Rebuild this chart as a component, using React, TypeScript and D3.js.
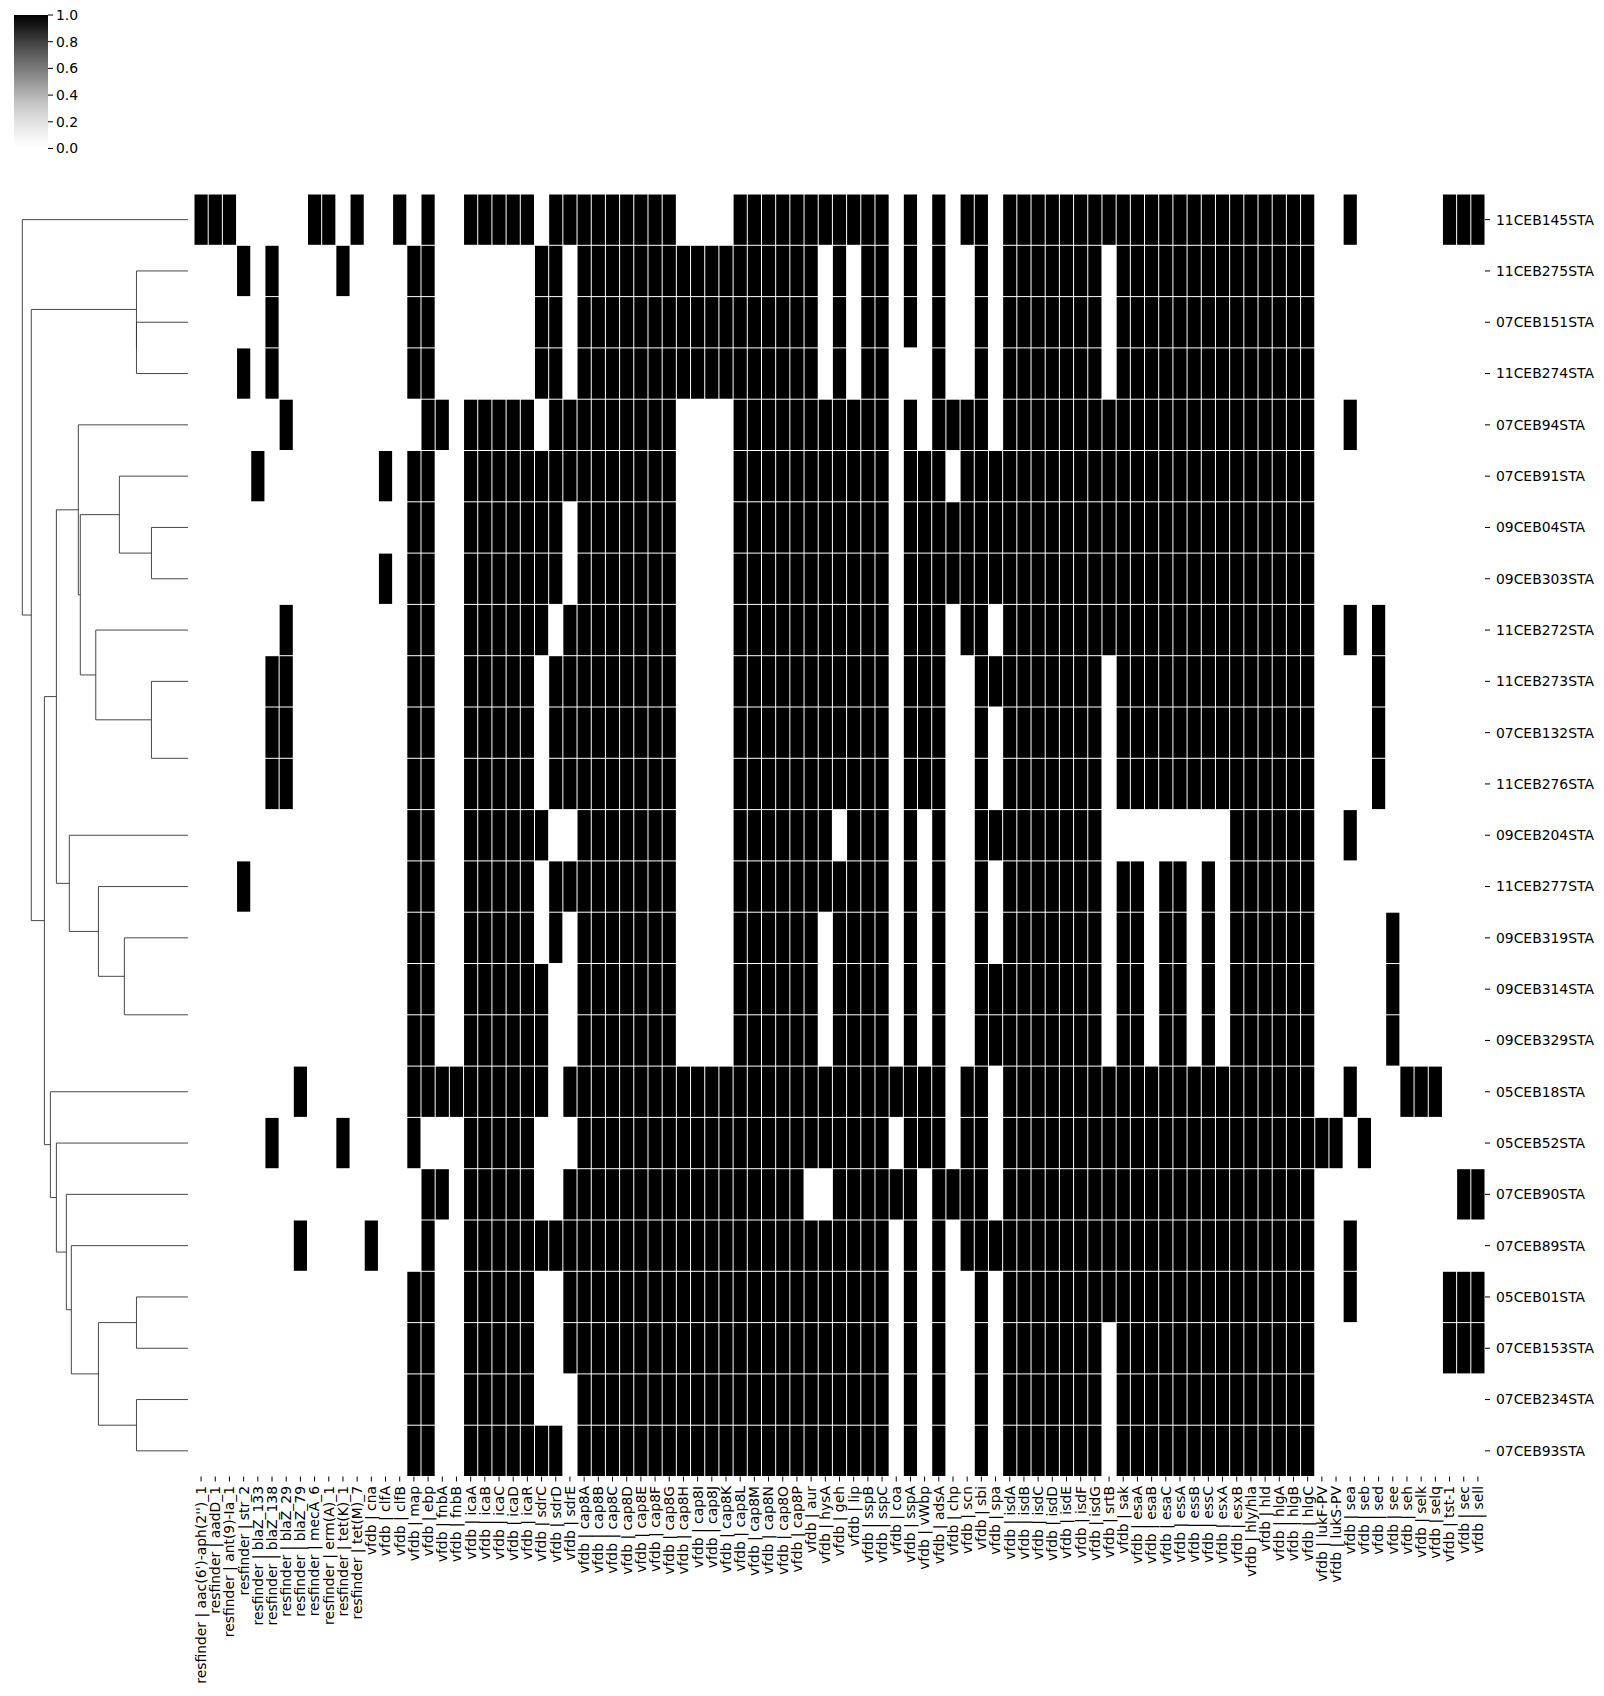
import React from 'react';
import * as d3 from 'd3';

const colLabels = [
  "resfinder | aac(6')-aph(2'')_1", "resfinder | aadD_1", "resfinder | ant(9)-Ia_1", "resfinder | str_2",
  "resfinder | blaZ_133", "resfinder | blaZ_138", "resfinder | blaZ_29", "resfinder | blaZ_79",
  "resfinder | mecA_6", "resfinder | erm(A)_1", "resfinder | tet(K)_1", "resfinder | tet(M)_7",
  "vfdb | cna", "vfdb | clfA", "vfdb | clfB", "vfdb | map", "vfdb | ebp", "vfdb | fnbA", "vfdb | fnbB",
  "vfdb | icaA", "vfdb | icaB", "vfdb | icaC", "vfdb | icaD", "vfdb | icaR",
  "vfdb | sdrC", "vfdb | sdrD", "vfdb | sdrE",
  "vfdb | cap8A", "vfdb | cap8B", "vfdb | cap8C", "vfdb | cap8D", "vfdb | cap8E", "vfdb | cap8F",
  "vfdb | cap8G", "vfdb | cap8H", "vfdb | cap8I", "vfdb | cap8J", "vfdb | cap8K", "vfdb | cap8L",
  "vfdb | cap8M", "vfdb | cap8N", "vfdb | cap8O", "vfdb | cap8P",
  "vfdb | aur", "vfdb | hysA", "vfdb | geh", "vfdb | lip", "vfdb | sspB", "vfdb | sspC", "vfdb | coa",
  "vfdb | sspA", "vfdb | vWbp", "vfdb | adsA", "vfdb | chp", "vfdb | scn", "vfdb | sbi", "vfdb | spa",
  "vfdb | isdA", "vfdb | isdB", "vfdb | isdC", "vfdb | isdD", "vfdb | isdE", "vfdb | isdF", "vfdb | isdG",
  "vfdb | srtB", "vfdb | sak",
  "vfdb | esaA", "vfdb | esaB", "vfdb | esaC", "vfdb | essA", "vfdb | essB", "vfdb | essC",
  "vfdb | esxA", "vfdb | esxB",
  "vfdb | hly/hla", "vfdb | hld", "vfdb | hlgA", "vfdb | hlgB", "vfdb | hlgC",
  "vfdb | lukF-PV", "vfdb | lukS-PV",
  "vfdb | sea", "vfdb | seb", "vfdb | sed", "vfdb | see", "vfdb | seh", "vfdb | selk", "vfdb | selq",
  "vfdb | tst-1", "vfdb | sec", "vfdb | sell",
];

const rowLabels = [
  "11CEB145STA", "11CEB275STA", "07CEB151STA", "11CEB274STA", "07CEB94STA", "07CEB91STA",
  "09CEB04STA", "09CEB303STA", "11CEB272STA", "11CEB273STA", "07CEB132STA", "11CEB276STA",
  "09CEB204STA", "11CEB277STA", "09CEB319STA", "09CEB314STA", "09CEB329STA", "05CEB18STA",
  "05CEB52STA", "07CEB90STA", "07CEB89STA", "05CEB01STA", "07CEB153STA", "07CEB234STA", "07CEB93STA",
];

// presence (1) / absence (0), one string per row, 91 columns (groups of 10)
const presenceRows = [
  "1110000011 0100101001 1111011111 1111000011 1111111110 1010110111 1111111111 1111111110 0100000011 1",
  "0001010000 1000011000 0000110111 1111111111 1111010110 1010010111 1111011111 1111111110 0000000000 0",
  "0000010000 0000011000 0000110111 1111111111 1111010110 1010010111 1111011111 1111111110 0000000000 0",
  "0001010000 0000011000 0000110111 1111111111 1111010110 0010010111 1111011111 1111111110 0000000000 0",
  "0000001000 0000001101 1111011111 1111000011 1111111110 1011110111 1111111111 1111111110 0100000000 0",
  "0000100000 0001011001 1111111111 1111000011 1111111110 1110111111 1111111111 1111111110 0000000000 0",
  "0000000000 0000011001 1111110111 1111000011 1111111110 1111111111 1111111111 1111111110 0000000000 0",
  "0000000000 0001011001 1111110111 1111000011 1111111110 1111111111 1111111111 1111111110 0000000000 0",
  "0000001000 0000011001 1111101111 1111000011 1111111110 1110110111 1111111111 1111111110 0101000000 0",
  "0000011000 0000011001 1111011111 1111000011 1111111110 1110011111 1111011111 1111111110 0001000000 0",
  "0000011000 0000011001 1111011111 1111000011 1111111110 1110010111 1111011111 1111111110 0001000000 0",
  "0000011000 0000011001 1111011111 1111000011 1111111110 1110010111 1111011111 1111111110 0001000000 0",
  "0000000000 0000011001 1111100111 1111000011 1111101110 1010011111 1111000000 0001111110 0100000000 0",
  "0001000000 0000011001 1111011111 1111000011 1111111110 1010010111 1111011011 0101111110 0000000000 0",
  "0000000000 0000011001 1111010111 1111000011 1111011110 1010010111 1111011011 0101111110 0000100000 0",
  "0000000000 0000011001 1111100111 1111000011 1111011110 1010011111 1111011011 0101111110 0000100000 0",
  "0000000000 0000011001 1111100111 1111000011 1111011110 1010011111 1111011011 0101111110 0000100000 0",
  "0000000100 0000011111 1111101111 1111111111 1111111111 1110110111 1111111111 1111111110 0100011100 0",
  "0000010000 1000010001 1111000111 1111111111 1111111110 1110110111 1111111111 1111111111 1010000000 0",
  "0000000000 0000001101 1111001111 1111111111 1110011111 1011110111 1111111111 1111111110 0000000001 1",
  "0000000100 0010001001 1111111111 1111111111 1111111110 1010111111 1111111111 1111111110 0100000000 0",
  "0000000000 0000011001 1111001111 1111111111 1111111110 1010010111 1111111111 1111111110 0100000011 1",
  "0000000000 0000011001 1111001111 1111111111 1111111110 1010010111 1111011111 1111111110 0000000011 1",
  "0000000000 0000011001 1111000111 1111111111 1111111110 1010010111 1111011111 1111111110 0000000000 0",
  "0000000000 0000011001 1111110111 1111111111 1111111110 1010010111 1111011111 1111111110 0000000000 0",
];

// row linkage (scipy style: ids < 25 are leaves, id 25 + k is the k-th merge)
const linkLeft = [10, 15, 6, 9, 2, 1, 21, 23, 14, 5, 13, 31, 8, 34, 4, 20, 12, 19, 39, 18, 17, 43, 30, 0];
const linkRight = [11, 16, 7, 25, 3, 29, 22, 24, 26, 27, 33, 32, 28, 37, 38, 36, 35, 40, 41, 42, 44, 45, 46, 47];
const linkHeight = [0, 0, 0.223, 0.223, 0.313, 0.313, 0.313, 0.313, 0.386, 0.416, 0.542, 0.542, 0.558,
  0.651, 0.663, 0.705, 0.717, 0.735, 0.795, 0.795, 0.831, 0.867, 0.946, 1.0];

const colorbarTicks = [0.0, 0.2, 0.4, 0.6, 0.8, 1.0];

const FONT = "DejaVu Sans";
const FS = 13.9;

export default function App() {
  const W = 1604, H = 1696;
  const hm = { left: 194, right: 1485, top: 194, bottom: 1476.5 };
  const nRows = rowLabels.length, nCols = colLabels.length;
  const x = d3.scaleBand<number>().domain(d3.range(nCols)).range([hm.left, hm.right]);
  const y = d3.scaleBand<number>().domain(d3.range(nRows)).range([hm.top, hm.bottom]);
  const color = d3.scaleSequential(d3.interpolateGreys).domain([0, 1]);
  const matrix = presenceRows.map(s => s.replace(/\s/g, '').split('').map(Number));

  // dendrogram geometry
  const pos: number[] = [];
  const hgt: number[] = [];
  for (let i = 0; i < nRows; i++) { pos[i] = (y(i) as number) + y.bandwidth() / 2; hgt[i] = 0; }
  linkLeft.forEach((a, k) => {
    const b = linkRight[k];
    pos[nRows + k] = (pos[a] + pos[b]) / 2;
    hgt[nRows + k] = linkHeight[k];
  });
  const maxH = d3.max(linkHeight) as number;
  const dendroRight = 188.5;
  const dx = d3.scaleLinear().domain([0, maxH * 1.05]).range([dendroRight, 14]);
  const dendroPaths = linkLeft.map((a, k) => {
    const b = linkRight[k];
    const h = linkHeight[k];
    return `M${dx(hgt[a])},${pos[a]}H${dx(h)}V${pos[b]}H${dx(hgt[b])}`;
  });

  // colorbar
  const cb = { x: 14, w: 34, top: 15, bottom: 148.5 };
  const cbY = d3.scaleLinear().domain([0, 1]).range([cb.bottom, cb.top]);
  const gradStops = d3.range(0, 1.0001, 0.05);

  const bw = x.bandwidth(), bh = y.bandwidth();

  return (
    <svg width={W} height={H} style={{ position: 'absolute', left: 0, top: 0, background: '#fff' }}
      fontFamily={FONT}>
      <rect x={0} y={0} width={W} height={H} fill="#fff" />
      <defs>
        <linearGradient id="cbgrad" x1="0" y1="1" x2="0" y2="0">
          {gradStops.map(t => (
            <stop key={t} offset={t} stopColor={color(t)} />
          ))}
        </linearGradient>
        <clipPath id="dendroClip">
          <rect x={0} y={hm.top} width={dendroRight - 0.6} height={hm.bottom - hm.top} />
        </clipPath>
      </defs>

      {/* colorbar */}
      <rect x={cb.x} y={cb.top} width={cb.w} height={cb.bottom - cb.top} fill="url(#cbgrad)" />
      {colorbarTicks.map(t => (
        <g key={t}>
          <line x1={cb.x + cb.w} x2={cb.x + cb.w + 5} y1={cbY(t)} y2={cbY(t)} stroke="#000" strokeWidth={1} />
          <text x={cb.x + cb.w + 8} y={cbY(t)} dy="0.35em" fontSize={FS} fill="#000">{t.toFixed(1)}</text>
        </g>
      ))}

      {/* heatmap cells */}
      <g>
        {matrix.map((row, r) => row.map((v, c) => (
          v ? <rect key={`${r}-${c}`} x={(x(c) as number) + 0.5} y={(y(r) as number) + 0.5}
            width={bw - 1} height={bh - 1} fill={color(v)} /> : null
        )))}
      </g>

      {/* dendrogram */}
      <g fill="none" stroke="#333" strokeWidth={0.9} clipPath="url(#dendroClip)">
        {dendroPaths.map((d, i) => <path key={i} d={d} />)}
      </g>

      {/* row ticks and labels */}
      {rowLabels.map((lab, r) => {
        const cy = (y(r) as number) + bh / 2;
        return (
          <g key={lab}>
            <line x1={hm.right} x2={hm.right + 5} y1={cy} y2={cy} stroke="#000" strokeWidth={1} />
            <text x={hm.right + 11} y={cy} dy="0.35em" fontSize={FS} fill="#000">{lab}</text>
          </g>
        );
      })}

      {/* column ticks and labels */}
      {colLabels.map((lab, c) => {
        const cx = (x(c) as number) + bw / 2;
        const ty = hm.bottom + 9.5;
        return (
          <g key={lab}>
            <line x1={cx} x2={cx} y1={hm.bottom} y2={hm.bottom + 5} stroke="#000" strokeWidth={1} />
            <text transform={`translate(${cx},${ty}) rotate(-90)`} textAnchor="end" dy="0.35em"
              fontSize={FS} fill="#000">{lab}</text>
          </g>
        );
      })}
    </svg>
  );
}
